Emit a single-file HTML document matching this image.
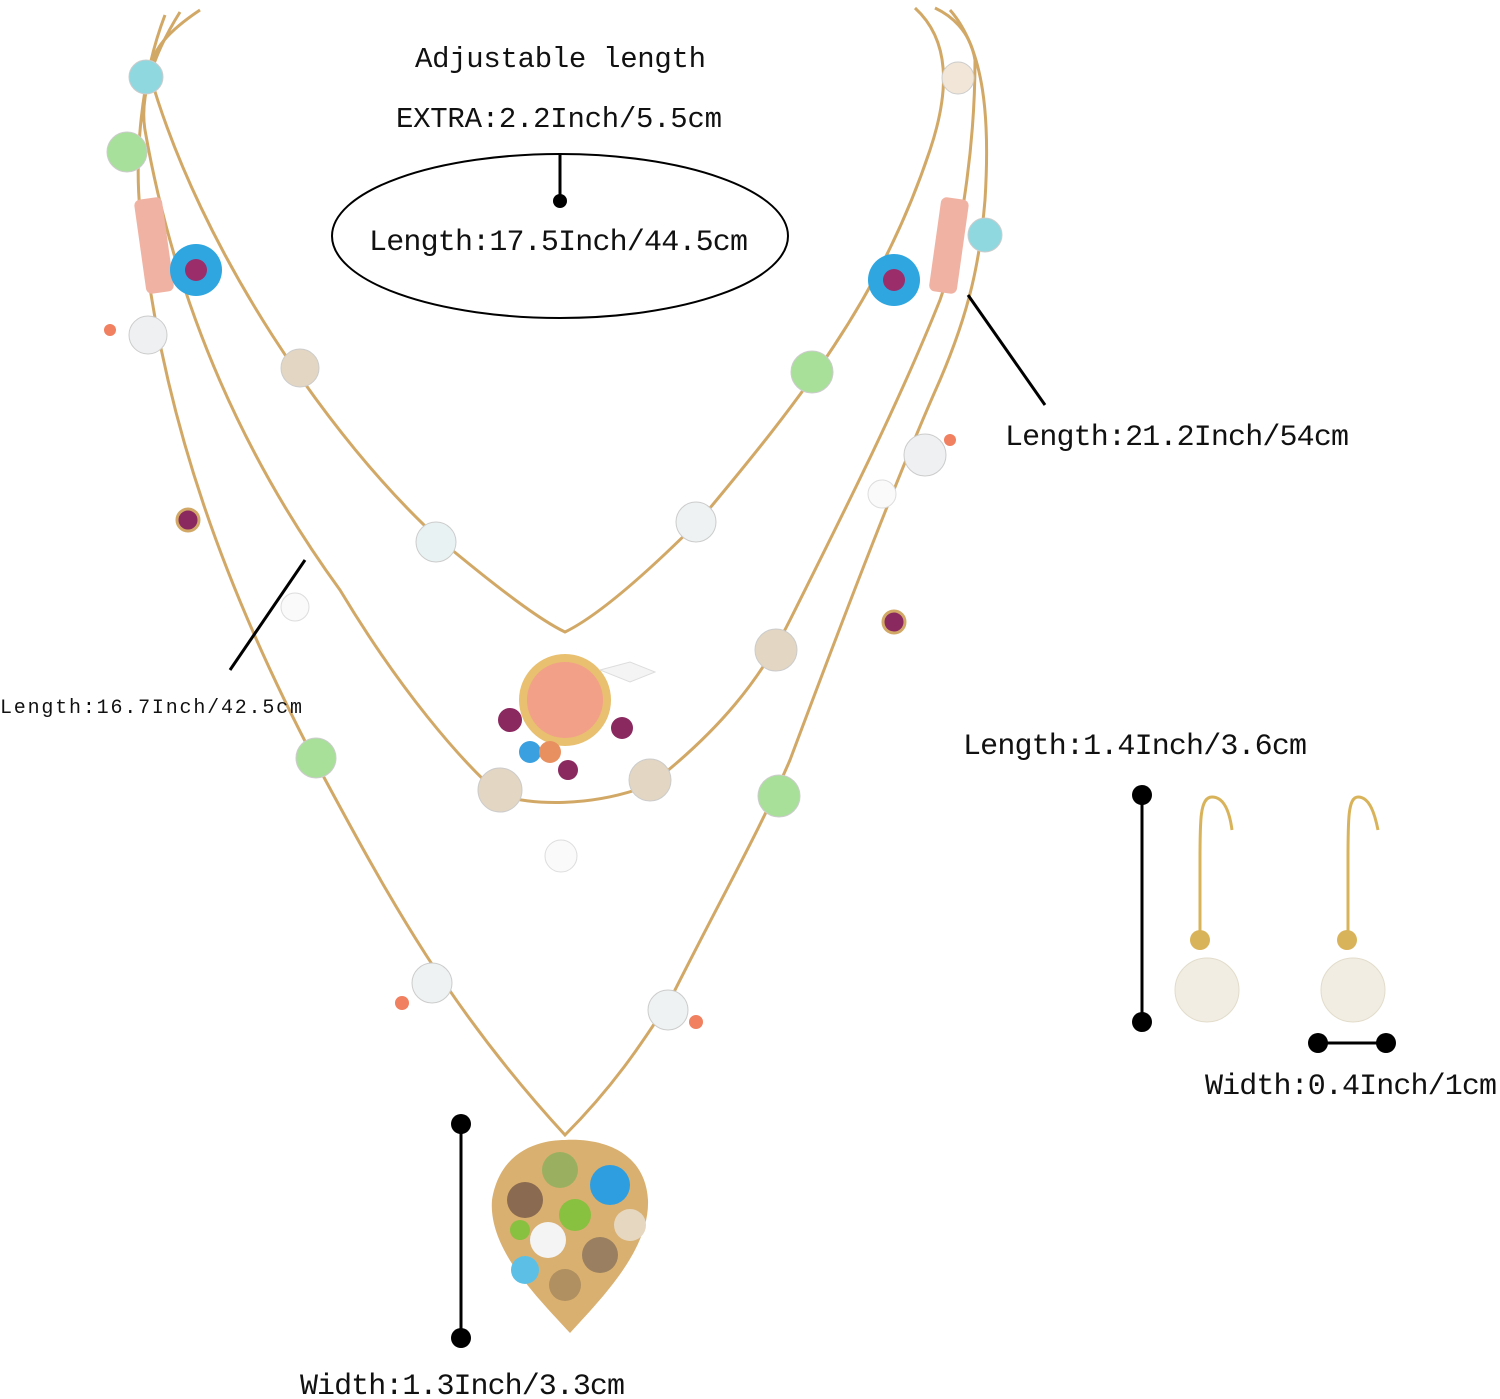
<!DOCTYPE html>
<html><head><meta charset="utf-8"><style>
html,body{margin:0;padding:0;background:#fff}
svg{display:block}
text{font-family:"Liberation Mono","Noto Sans CJK SC",monospace;fill:#111}
</style></head><body>
<svg width="1500" height="1399" viewBox="0 0 1500 1399" xmlns="http://www.w3.org/2000/svg">
<g fill="none" stroke="#d2a866" stroke-width="3">
<path d="M200,10 C170,30 150,50 150,75 C200,250 330,440 440,540 C500,590 540,620 565,632 C600,615 650,570 700,520 C800,400 880,300 930,150 C950,90 950,40 915,8"/>
<path d="M180,12 C150,60 140,100 145,130 C180,330 260,480 340,590 C400,690 460,760 500,795 C530,805 590,808 650,785 C720,730 760,680 790,620 C850,500 900,400 940,300 C965,230 975,130 975,60 C970,30 950,15 935,8"/>
<path d="M165,15 C140,80 135,160 140,210 C160,420 230,600 320,770 C390,900 450,1010 565,1135 C620,1080 650,1030 670,1000 C720,900 760,830 790,760 C850,600 900,470 940,380 C970,310 980,260 985,200 C990,120 985,50 950,10"/>
</g>
<!-- beads chain 1 -->
<g stroke="#ccc" stroke-width="1">
<circle cx="146" cy="77" r="17" fill="#8fd8e0"/>
<circle cx="127" cy="152" r="20" fill="#a6e09a"/>
<circle cx="148" cy="335" r="19" fill="#eef0f2"/>
<circle cx="300" cy="368" r="19" fill="#e3d6c2"/>
<circle cx="436" cy="542" r="20" fill="#e9f2f2"/>
<circle cx="696" cy="522" r="20" fill="#eef2f2"/>
<circle cx="812" cy="372" r="21" fill="#a8e09a"/>
<circle cx="958" cy="78" r="16" fill="#f2e6d8"/>
<circle cx="985" cy="235" r="17" fill="#8fd8e0"/>
<circle cx="925" cy="455" r="21" fill="#eef0f2"/>
<circle cx="776" cy="650" r="21" fill="#e3d6c2"/>
<circle cx="650" cy="780" r="21" fill="#e3d6c2"/>
<circle cx="500" cy="790" r="22" fill="#e3d6c2"/>
<circle cx="316" cy="758" r="20" fill="#a8e09a"/>
<circle cx="779" cy="796" r="21" fill="#a8e09a"/>
<circle cx="432" cy="983" r="20" fill="#eef2f2"/>
<circle cx="668" cy="1010" r="20" fill="#eef2f2"/>
</g>
<!-- flowers and tubes -->
<rect x="140" y="198" width="28" height="95" rx="6" fill="#f0b3a3" transform="rotate(-8 154 245)"/>
<rect x="935" y="198" width="28" height="95" rx="6" fill="#f0b3a3" transform="rotate(8 949 245)"/>
<circle cx="196" cy="270" r="26" fill="#2fa6e0"/><circle cx="196" cy="270" r="11" fill="#9a2d6a"/>
<circle cx="894" cy="280" r="26" fill="#2fa6e0"/><circle cx="894" cy="280" r="11" fill="#9a2d6a"/>
<circle cx="188" cy="520" r="11" fill="#8a2860" stroke="#d2a866" stroke-width="3"/>
<circle cx="894" cy="622" r="11" fill="#8a2860" stroke="#d2a866" stroke-width="3"/>
<circle cx="295" cy="607" r="14" fill="#fafafa" stroke="#ddd"/>
<circle cx="882" cy="494" r="14" fill="#fafafa" stroke="#ddd"/>
<circle cx="561" cy="856" r="16" fill="#fafafa" stroke="#ddd"/>
<circle cx="402" cy="1003" r="7" fill="#f08060"/><circle cx="696" cy="1022" r="7" fill="#f08060"/>
<circle cx="110" cy="330" r="6" fill="#f08060"/><circle cx="950" cy="440" r="6" fill="#f08060"/>
<!-- pendant 1 -->
<circle cx="565" cy="700" r="46" fill="#e8c070"/>
<circle cx="565" cy="700" r="38" fill="#f2a088"/>
<circle cx="510" cy="720" r="12" fill="#8a2860"/><circle cx="622" cy="728" r="11" fill="#8a2860"/>
<circle cx="530" cy="752" r="11" fill="#3aa0e0"/><circle cx="568" cy="770" r="10" fill="#8a2860"/>
<circle cx="550" cy="752" r="11" fill="#e89060"/>
<path d="M600,670 l30,-8 l25,10 l-25,10 z" fill="#f4f4f4" stroke="#ddd"/>
<!-- pendant heart -->
<path d="M565,1140 C540,1140 500,1150 492,1200 C488,1250 540,1300 570,1333 C600,1300 650,1250 648,1200 C645,1150 600,1138 565,1140 z" fill="#d9b070"/>
<circle cx="560" cy="1170" r="18" fill="#9ab060"/><circle cx="610" cy="1185" r="20" fill="#2f9ee0"/>
<circle cx="525" cy="1200" r="18" fill="#8a6a50"/><circle cx="575" cy="1215" r="16" fill="#88c040"/>
<circle cx="548" cy="1240" r="18" fill="#f4f4f4"/><circle cx="630" cy="1225" r="16" fill="#e6d7c0"/>
<circle cx="600" cy="1255" r="18" fill="#9a8060"/><circle cx="525" cy="1270" r="14" fill="#5cc0e6"/>
<circle cx="565" cy="1285" r="16" fill="#b09060"/><circle cx="520" cy="1230" r="10" fill="#88c040"/>
<!-- earrings -->
<g fill="none" stroke="#d9b35a" stroke-width="3">
<path d="M1200,940 L1200,860 C1200,820 1200,797 1212,797 C1225,797 1230,815 1232,830"/>
<path d="M1348,940 L1348,860 C1348,820 1348,797 1358,797 C1370,797 1375,815 1378,830"/>
</g>
<circle cx="1200" cy="940" r="10" fill="#d9b35a"/><circle cx="1347" cy="940" r="10" fill="#d9b35a"/>
<circle cx="1207" cy="990" r="32" fill="#f1ede2" stroke="#e2dccb"/>
<circle cx="1353" cy="990" r="32" fill="#f1ede2" stroke="#e2dccb"/>
<!-- annotations -->
<ellipse cx="560" cy="236" rx="228" ry="82" fill="none" stroke="#000" stroke-width="2"/>
<g stroke="#000" stroke-width="3">
<line x1="560" y1="155" x2="560" y2="200"/>
<line x1="968" y1="295" x2="1045" y2="405"/>
<line x1="305" y1="560" x2="230" y2="670"/>
<line x1="1142" y1="795" x2="1142" y2="1022"/>
<line x1="1318" y1="1043" x2="1386" y2="1043"/>
<line x1="461" y1="1124" x2="461" y2="1338"/>
</g>
<g fill="#000">
<circle cx="560" cy="201" r="7"/>
<circle cx="1142" cy="795" r="10"/><circle cx="1142" cy="1022" r="10"/>
<circle cx="1318" cy="1043" r="10"/><circle cx="1386" cy="1043" r="10"/>
<circle cx="461" cy="1124" r="10"/><circle cx="461" cy="1338" r="10"/>
</g>
<text x="415" y="67" font-size="29" textLength="291">Adjustable length</text>
<text x="396" y="127" font-size="29" textLength="326">EXTRA:2.2Inch/5.5cm</text>
<text x="369" y="250" font-size="30" textLength="379">Length:17.5Inch/44.5cm</text>
<text x="1005" y="445" font-size="30" textLength="344">Length:21.2Inch/54cm</text>
<text x="0" y="713" font-size="20" textLength="302">Length:16.7Inch/42.5cm</text>
<text x="963" y="754" font-size="30" textLength="344">Length:1.4Inch/3.6cm</text>
<text x="1205" y="1094" font-size="30" textLength="292">Width:0.4Inch/1cm</text>
<text x="300" y="1394" font-size="30" textLength="325">Width:1.3Inch/3.3cm</text>
</svg>
</body></html>
